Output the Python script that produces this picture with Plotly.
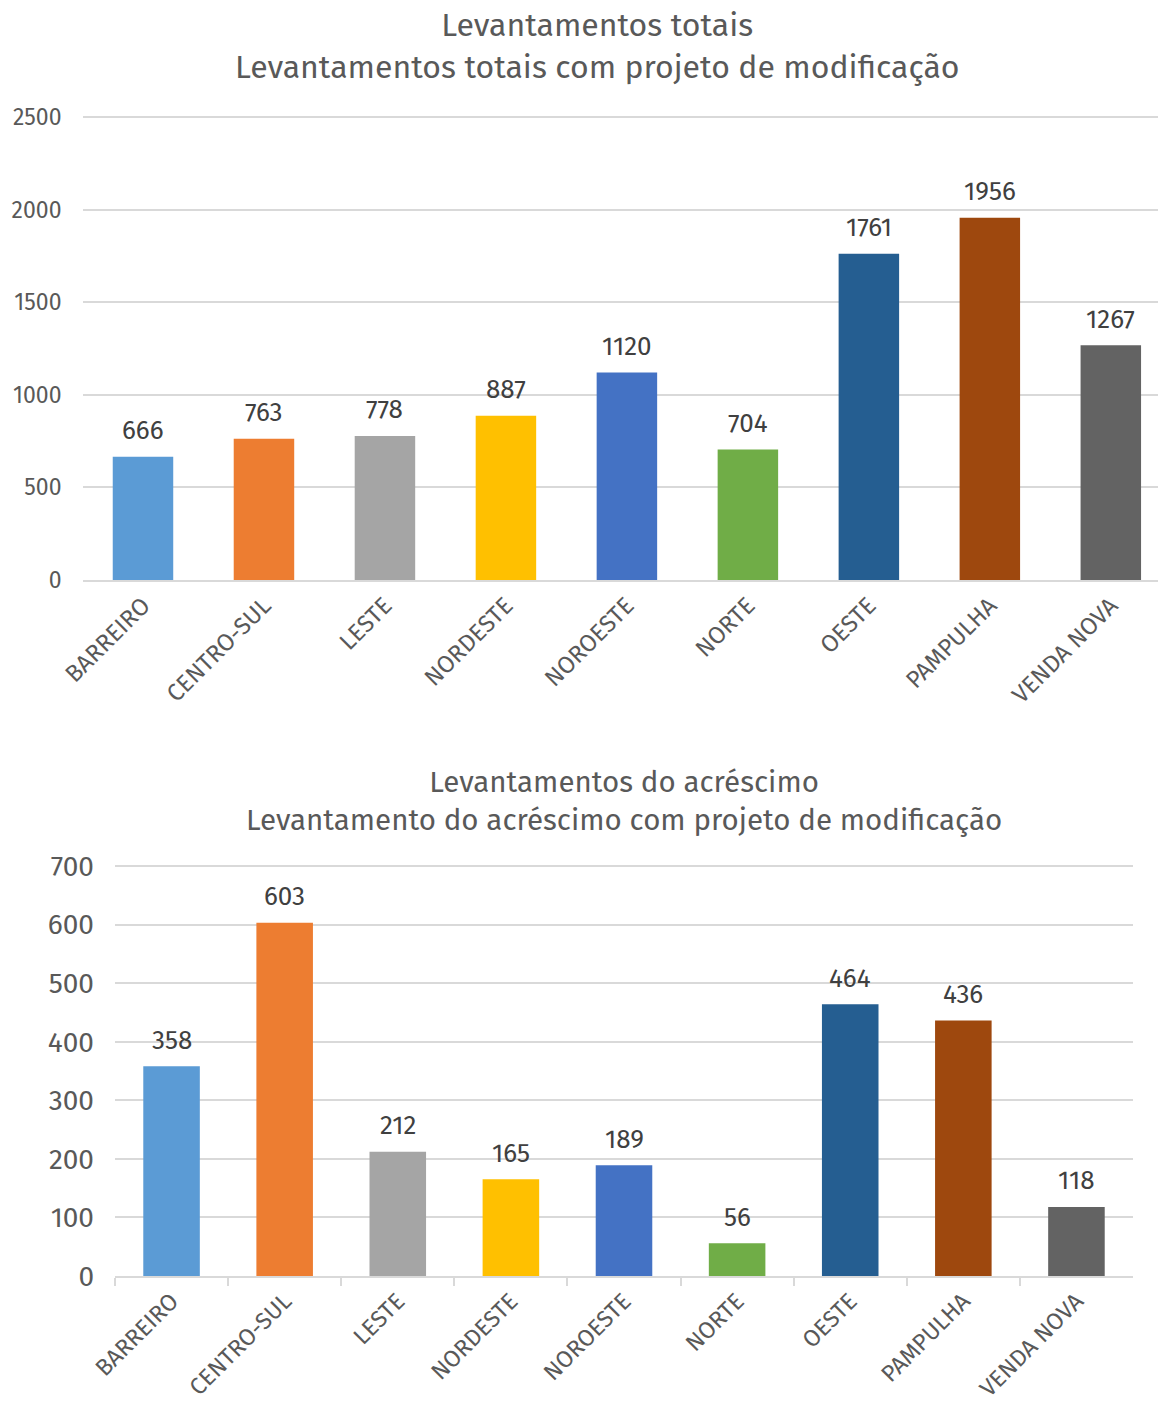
import plotly.graph_objects as go

categories = ["BARREIRO", "CENTRO-SUL", "LESTE", "NORDESTE", "NOROESTE", "NORTE", "OESTE", "PAMPULHA", "VENDA NOVA"]
totais = [666, 763, 778, 887, 1120, 704, 1761, 1956, 1267]
acrescimo = [358, 603, 212, 165, 189, 56, 464, 436, 118]
colors = ["#5B9BD5", "#ED7D31", "#A5A5A5", "#FFC000", "#4472C4", "#70AD47", "#255E91", "#9E480E", "#636363"]

title1 = "Levantamentos totais<br>Levantamentos totais com projeto de modificação"
title2 = "Levantamentos do acréscimo<br>Levantamento do acréscimo com projeto de modificação"

FONT = "Fira Sans, Open Sans, Noto Sans, sans-serif"
TXT = "#595959"
LBL = "#404040"
GRID = "#D9D9D9"

W, H = 1158, 1402

# y-axis geometry (pixels): top chart 0 -> 580, 2500 -> 117 ; bottom chart 0 -> 1276, 700 -> 866
top_max = 2520
top_px = 463 / 2500
top_dom_top = 580 - top_max * top_px
bot_max = 715
bot_px = 410 / 700
bot_dom_top = 1276 - bot_max * bot_px

fig = go.Figure()
fig.add_trace(go.Bar(
    x=categories, y=totais, marker=dict(color=colors, line=dict(width=0)),
    xaxis="x", yaxis="y", showlegend=False, hoverinfo="x+y"))
fig.add_trace(go.Bar(
    x=categories, y=acrescimo, marker=dict(color=colors, line=dict(width=0)),
    xaxis="x2", yaxis="y2", showlegend=False, hoverinfo="x+y"))

annotations = [
    dict(text=title1, x=597 / W, y=1 - 46.5 / H, xref="paper", yref="paper",
         xanchor="center", yanchor="middle", showarrow=False,
         font=dict(size=32, color=TXT, family=FONT)),
    dict(text=title2, x=624 / W, y=1 - 800.5 / H, xref="paper", yref="paper",
         xanchor="center", yanchor="middle", showarrow=False,
         font=dict(size=29.5, color=TXT, family=FONT)),
]
for c, v in zip(categories, totais):
    annotations.append(dict(text=str(v), x=c, y=v, xref="x", yref="y", showarrow=False,
                            xanchor="center", yanchor="middle", yshift=26,
                            font=dict(size=26, color=LBL, family=FONT)))
for c, v in zip(categories, acrescimo):
    annotations.append(dict(text=str(v), x=c, y=v, xref="x2", yref="y2", showarrow=False,
                            xanchor="center", yanchor="middle", yshift=26,
                            font=dict(size=26, color=LBL, family=FONT)))

fig.update_layout(
    width=W, height=H,
    margin=dict(l=0, r=0, t=0, b=0),
    paper_bgcolor="white", plot_bgcolor="white",
    font=dict(family=FONT, color=TXT),
    bargap=0.5,
    xaxis=dict(domain=[82.5 / W, 1.0], range=[-0.5, 8.39], anchor="y", automargin=False,
               tickangle=-45, tickfont=dict(size=24, color=TXT),
               showline=True, linecolor=GRID, linewidth=2, ticks="",
               showgrid=False, zeroline=False),
    yaxis=dict(domain=[1 - 580 / H, 1 - top_dom_top / H], range=[0, top_max],
               tickvals=[0, 500, 1000, 1500, 2000, 2500],
               anchor="x", automargin=False,
               tickfont=dict(size=23, color=TXT), showgrid=True, gridcolor=GRID, gridwidth=1.5,
               zeroline=False, showline=False, ticklabelstandoff=20),
    xaxis2=dict(domain=[115 / W, 1133 / W], range=[-0.5, 8.5], anchor="y2", automargin=False,
                tickangle=-45, tickfont=dict(size=23.5, color=TXT),
                showline=True, linecolor=GRID, linewidth=2,
                ticks="outside", tickson="boundaries", ticklen=8, tickcolor=GRID, tickwidth=2,
                showgrid=False, zeroline=False),
    yaxis2=dict(domain=[1 - 1276 / H, 1 - bot_dom_top / H], range=[0, bot_max],
                tickvals=[0, 100, 200, 300, 400, 500, 600, 700],
                anchor="x2", automargin=False,
                tickfont=dict(size=28, color=TXT), showgrid=True, gridcolor=GRID, gridwidth=1.5,
                zeroline=False, showline=False, ticklabelstandoff=20),
    annotations=annotations,
)

fig.write_html("out.html")
